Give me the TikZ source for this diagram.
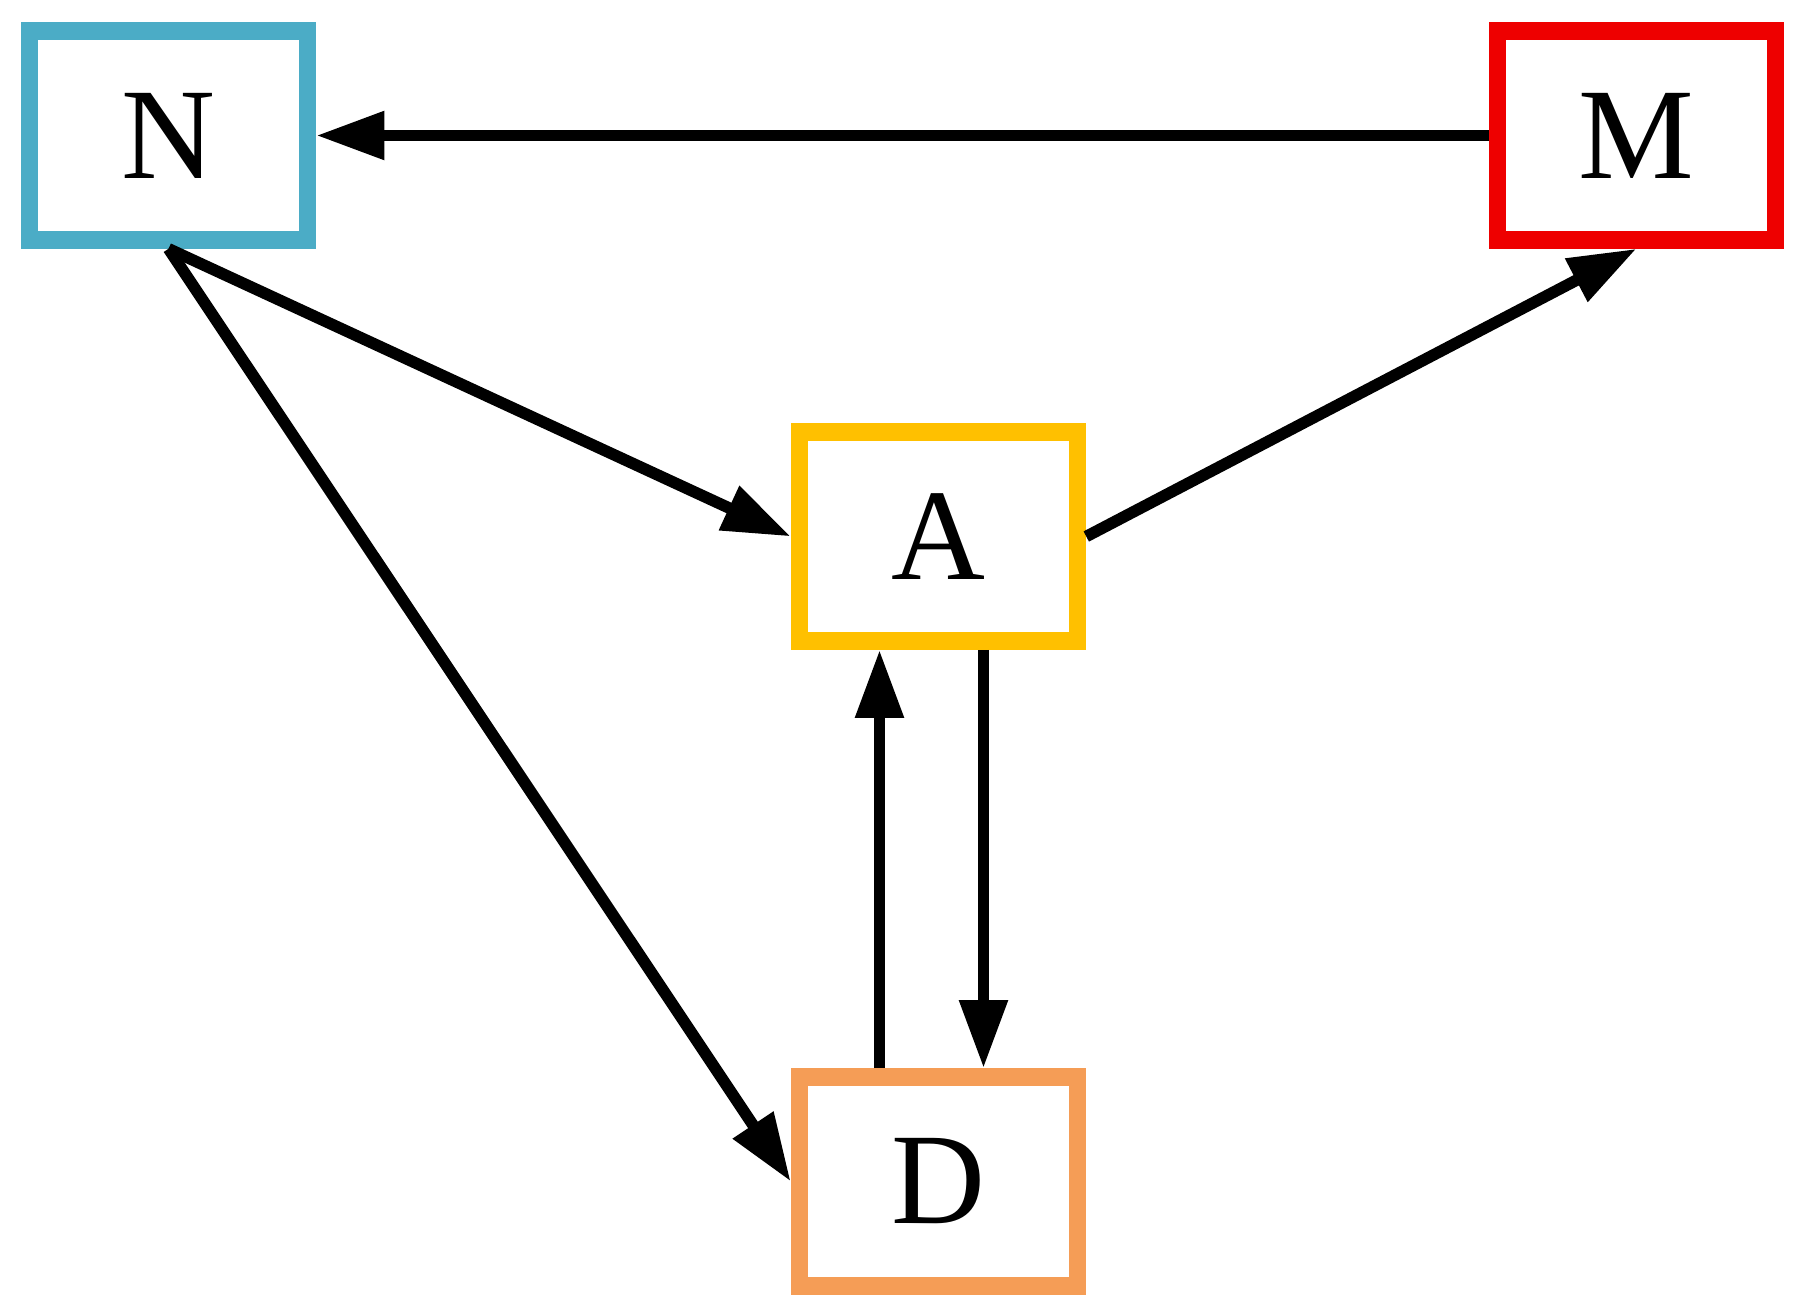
\documentclass[tikz,border=0pt]{standalone}
\usepackage{fontspec}
\setmainfont{Liberation Serif}
\usepackage{tikz}
\usetikzlibrary{arrows.meta,positioning,calc}

\definecolor{nblue}{HTML}{4BACC6}
\definecolor{mred}{HTML}{EE0000}
\definecolor{ayellow}{HTML}{FFC000}
\definecolor{dorange}{HTML}{F59D56}

\tikzset{
  box/.style={draw,line width=5pt,minimum width=2.78cm,minimum height=2.09cm,
    inner sep=0pt,font=\fontsize{37}{40}\selectfont},
  edge/.style={->,line width=3.3pt}
}

\begin{document}
\begin{tikzpicture}[>={Triangle[length=0.68cm,width=0.46cm]}]
\useasboundingbox (0,0) rectangle (18.06,-13.11);
\node[box,draw=nblue] (n) at (1.685,-1.355) {N};
\node[box,draw=mred] (m) at (16.365,-1.355) {M};
\node[box,draw=ayellow] (a) at (9.385,-5.365) {A};
\node[box,draw=dorange] (d) at (9.385,-11.815) {D};
\draw[edge] (m.west) -- (n.east);
\draw[edge] (n.south) -- (a.west);
\draw[edge] (n.south) -- (d.west);
\draw[edge] (a.east) -- (m.south);
\draw[edge] ($(d.north)+(-0.59,0)$) -- ($(a.south)+(-0.59,0)$);
\draw[edge] ($(a.south)+(0.45,0)$) -- ($(d.north)+(0.45,0)$);
\end{tikzpicture}
\end{document}
